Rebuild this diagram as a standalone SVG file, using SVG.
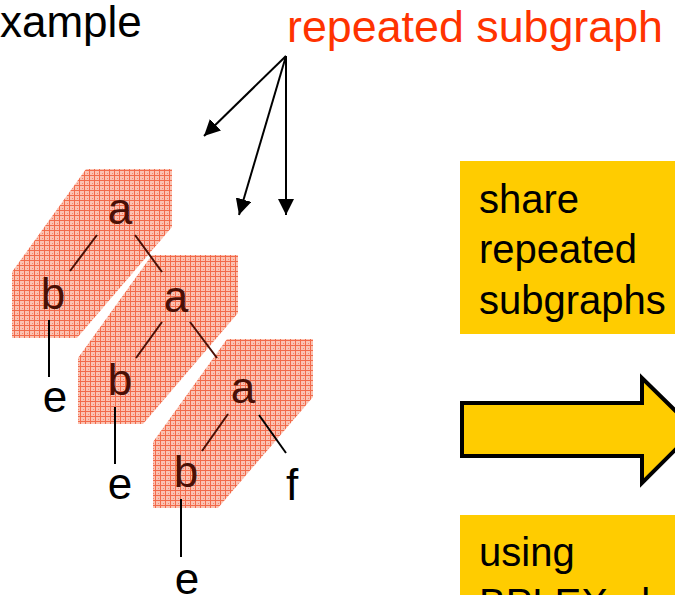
<svg xmlns="http://www.w3.org/2000/svg" width="675" height="595" viewBox="0 0 675 595">
  <defs>
    <pattern id="hatch" width="5" height="5" patternUnits="userSpaceOnUse">
      <rect width="5" height="5" fill="#FBC2B2"/>
      <rect x="0" y="0" width="5" height="1" fill="#F26A4A"/>
      <rect x="0" y="0" width="1" height="5" fill="#F26A4A"/>
      <rect x="3" y="3" width="1" height="1" fill="#F5866C"/>
    </pattern>
    <marker id="ah" viewBox="0 0 10 10" refX="10" refY="5" markerWidth="16" markerHeight="16" markerUnits="userSpaceOnUse" orient="auto">
      <path d="M0,0 L10,5 L0,10 z" fill="#000"/>
    </marker>
    <polygon id="sub" points="227,339 313,339 313,397 218,508 153,508 153,442"/>
  </defs>
  <style>
    .t { font-family: "Liberation Sans", Arial, sans-serif; font-size: 44px; }
    .box { font-family: "Liberation Sans", Arial, sans-serif; font-size: 40px; fill: #000; }
    .in { fill: #4A1006; }
    .out { fill: #000; }
    .edge { stroke: #000; stroke-width: 2; fill: none; }
    .ein { stroke: #4A1006; stroke-width: 2; fill: none; }
    .ybox { fill: #FFCC00; }
    .sub { fill: url(#hatch); }
  </style>

  <g id="title">
    <text class="t" x="0" y="37" fill="#000">xample</text>
  </g>
  <g id="label-repeated">
    <text class="t" x="287" y="42" fill="#FF3300" textLength="376" lengthAdjust="spacingAndGlyphs">repeated subgraph</text>
  </g>

  <g id="subgraph1"><use href="#sub" class="sub" transform="translate(-141,-170)"/></g>
  <g id="subgraph2"><use href="#sub" class="sub" transform="translate(-75,-84)"/></g>
  <g id="subgraph3"><use href="#sub" class="sub"/></g>

  <g id="connectors">
    <line class="edge" x1="286" y1="56" x2="204" y2="136" marker-end="url(#ah)"/>
    <line class="edge" x1="286" y1="56" x2="239" y2="215" marker-end="url(#ah)"/>
    <line class="edge" x1="286" y1="56" x2="286" y2="215" marker-end="url(#ah)"/>
    <line class="ein" x1="97" y1="235" x2="70" y2="271"/>
    <line class="ein" x1="135" y1="235" x2="162" y2="272"/>
    <line class="edge" x1="49" y1="320" x2="49" y2="377"/>
    <line class="ein" x1="162" y1="322" x2="136" y2="358"/>
    <line class="ein" x1="190" y1="322" x2="217" y2="358"/>
    <line class="edge" x1="115" y1="407" x2="115" y2="464"/>
    <line class="ein" x1="228" y1="414" x2="202" y2="451"/>
    <line class="edge" x1="259" y1="415" x2="286" y2="453"/>
    <line class="edge" x1="181" y1="499" x2="181" y2="557"/>
  </g>

  <g id="node-a1"><text class="t in" x="120" y="224" text-anchor="middle">a</text></g>
  <g id="node-b1"><text class="t in" x="53" y="309" text-anchor="middle">b</text></g>
  <g id="node-e1"><text class="t out" x="55" y="412" text-anchor="middle">e</text></g>
  <g id="node-a2"><text class="t in" x="176" y="312" text-anchor="middle">a</text></g>
  <g id="node-b2"><text class="t in" x="120" y="395" text-anchor="middle">b</text></g>
  <g id="node-e2"><text class="t out" x="120" y="499" text-anchor="middle">e</text></g>
  <g id="node-a3"><text class="t in" x="243" y="403" text-anchor="middle">a</text></g>
  <g id="node-b3"><text class="t in" x="186" y="487" text-anchor="middle">b</text></g>
  <g id="node-f"><text class="t out" x="292" y="500" text-anchor="middle">f</text></g>
  <g id="node-e3"><text class="t out" x="187" y="594" text-anchor="middle">e</text></g>

  <g id="box-share">
    <rect class="ybox" x="460" y="161" width="220" height="173"/>
    <text class="box" x="479" y="213">share</text>
    <text class="box" x="479" y="263">repeated</text>
    <text class="box" x="479" y="314">subgraphs</text>
  </g>

  <g id="big-arrow">
    <polygon points="462,403 642,403 642,378 695,430 642,483 642,456 462,456" fill="#FFCC00" stroke="#000" stroke-width="4" stroke-linejoin="miter"/>
  </g>

  <g id="box-using">
    <rect class="ybox" x="460" y="515" width="220" height="90"/>
    <text class="box" x="479" y="566">using</text>
    <text class="box" x="479" y="617">BPLEX algorithm</text>
  </g>
</svg>
